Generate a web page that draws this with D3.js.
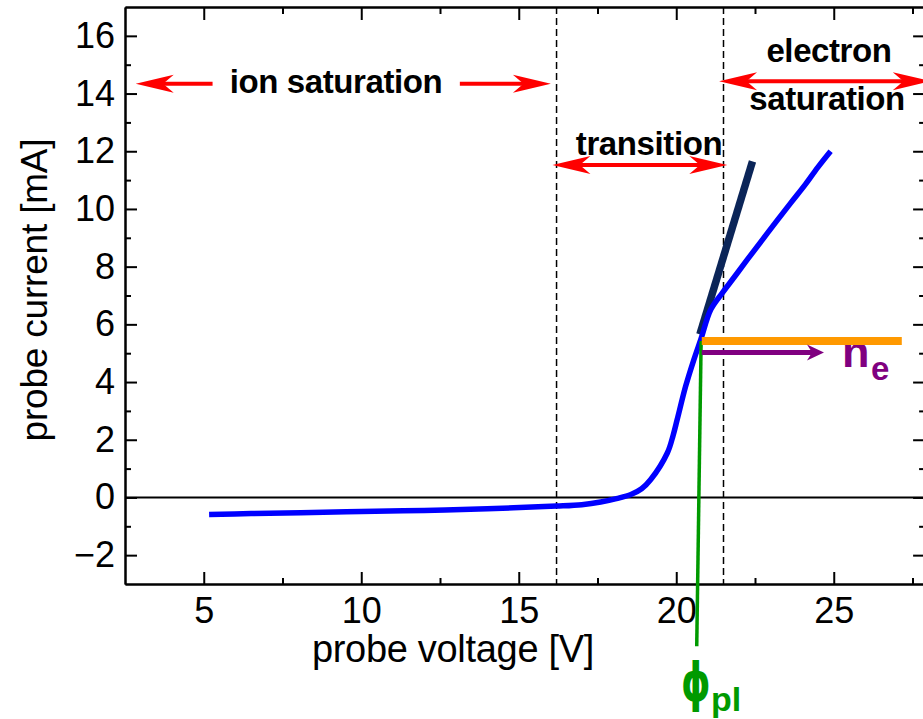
<!DOCTYPE html>
<html>
<head>
<meta charset="utf-8">
<script src="https://cdn.jsdelivr.net/npm/d3@7"></script>
<style>
  html, body { margin: 0; padding: 0; background: #fff; }
  svg { display: block; font-family: "Liberation Sans", Arial, sans-serif; }
</style>
</head>
<body>
<svg id="chart" width="923" height="719"></svg>
<script>
// Langmuir probe I–V characteristic
const voltage = [5.17, 6.5, 8.08, 10, 12, 14, 16.2, 17, 17.6, 18.1, 18.56, 18.9, 19.19, 19.72, 19.9, 20.03, 20.3, 20.56, 20.78, 21.1, 21.47, 21.85, 22.26, 22.9, 23.63, 24.1, 24.5, 24.9];
const current = [-0.59, -0.56, -0.53, -0.49, -0.45, -0.39, -0.3, -0.25, -0.16, -0.04, 0.1, 0.3, 0.62, 1.55, 2.15, 2.7, 3.86, 4.78, 5.48, 6.52, 7.1, 7.65, 8.25, 9.17, 10.2, 10.85, 11.45, 12.0];

// axis ticks
const xMajorTicks = [5, 10, 15, 20, 25];
const xMinorTicks = [7.5, 12.5, 17.5, 22.5, 27.5];
const yMajorTicks = [-2, 0, 2, 4, 6, 8, 10, 12, 14, 16];
const yMinorTicks = [-1, 1, 3, 5, 7, 9, 11, 13, 15];

// region boundaries [V]
const regionBounds = [16.2, 21.5];

// tangent to the steep part of the curve: [V, I] end points
const tangentV = [20.75, 22.42];
const tangentI = [5.65, 11.65];

// plasma potential and electron saturation level
const phiPl = [20.79, 20.65];      // top, bottom voltage of the marker
const phiPlI = [5.42, -5.16];      // top, bottom current of the marker
const satLevelV = [20.81, 27.16];
const satLevelI = 5.42;
const neArrowV = [20.81, 24.69];
const neArrowI = 5.02;

// region arrows: [from V, to V, at I]
const regionLabels = ["ion saturation", "transition", "electron", "saturation"];
const ionArrowLeft = [5.28, 2.84, 14.34];
const ionArrowRight = [13.13, 16.02, 14.34];
const transArrow = [16.07, 21.62, 11.52];
const elecArrow = [21.36, 28.08, 14.43];

const svg = d3.select("#chart");
const x = d3.scaleLinear().domain([2.5, 27.9]).range([125, 925.1]);
const y = d3.scaleLinear().domain([-3, 17]).range([584, 7]);

const TICK_FONT = 36;

// ---- axes ----
function styleAxis(g) {
  g.selectAll("path.domain").attr("stroke", "#000").attr("stroke-width", 2);
  g.selectAll(".tick line").attr("stroke", "#000").attr("stroke-width", 2);
  g.selectAll(".tick text").attr("font-size", TICK_FONT).attr("fill", "#000")
    .attr("font-family", "'Liberation Sans', Arial, sans-serif");
}

svg.append("g").attr("transform", `translate(0,${y(-3)})`)
  .call(d3.axisBottom(x).tickValues(xMajorTicks).tickSizeInner(-12).tickSizeOuter(0).tickPadding(13).tickFormat(d3.format("d")))
  .call(styleAxis);
svg.append("g").attr("transform", `translate(0,${y(-3)})`)
  .call(d3.axisBottom(x).tickValues(xMinorTicks).tickSizeInner(-6).tickSizeOuter(0).tickFormat(""))
  .call(styleAxis);
svg.append("g").attr("transform", `translate(0,${y(17)})`)
  .call(d3.axisTop(x).tickValues(xMajorTicks).tickSizeInner(-13).tickSizeOuter(0).tickFormat(""))
  .call(styleAxis);
svg.append("g").attr("transform", `translate(0,${y(17)})`)
  .call(d3.axisTop(x).tickValues(xMinorTicks).tickSizeInner(-7).tickSizeOuter(0).tickFormat(""))
  .call(styleAxis);

svg.append("g").attr("transform", `translate(${x(2.5)},0)`)
  .call(d3.axisLeft(y).tickValues(yMajorTicks).tickSizeInner(-12).tickSizeOuter(0).tickPadding(10).tickFormat(d3.format("d")))
  .call(styleAxis);
svg.append("g").attr("transform", `translate(${x(2.5)},0)`)
  .call(d3.axisLeft(y).tickValues(yMinorTicks).tickSizeInner(-6).tickSizeOuter(0).tickFormat(""))
  .call(styleAxis);
svg.append("g").attr("transform", `translate(${x(27.9)},0)`)
  .call(d3.axisRight(y).tickValues(yMajorTicks).tickSizeInner(-12).tickSizeOuter(0).tickFormat(""))
  .call(styleAxis);
svg.append("g").attr("transform", `translate(${x(27.9)},0)`)
  .call(d3.axisRight(y).tickValues(yMinorTicks).tickSizeInner(-6).tickSizeOuter(0).tickFormat(""))
  .call(styleAxis);

// axis titles
svg.append("text")
  .attr("x", 453).attr("y", 662)
  .attr("text-anchor", "middle").attr("font-size", 38).attr("fill", "#000")
  .attr("letter-spacing", -0.3)
  .text("probe voltage [V]");
svg.append("text")
  .attr("transform", "translate(47,290) rotate(-90)")
  .attr("text-anchor", "middle").attr("font-size", 37).attr("fill", "#000")
  .attr("letter-spacing", -0.2)
  .text("probe current [mA]");

// zero line
svg.append("line")
  .attr("x1", x(2.5)).attr("x2", x(27.9)).attr("y1", y(0)).attr("y2", y(0))
  .attr("stroke", "#000").attr("stroke-width", 2);

// region boundaries
svg.selectAll("line.bound").data(regionBounds).enter().append("line")
  .attr("class", "bound")
  .attr("x1", d => x(d)).attr("x2", d => x(d))
  .attr("y1", y(17)).attr("y2", y(-3))
  .attr("stroke", "#000").attr("stroke-width", 1.5).attr("stroke-dasharray", "7,4");

// ---- arrow helpers ----
function arrowHead(g, tipX, tipY, dir, len, half, notch, color) {
  // dir = +1 points right, -1 points left
  const p = [
    [tipX, tipY],
    [tipX - dir * len, tipY - half],
    [tipX - dir * len * notch, tipY],
    [tipX - dir * len, tipY + half]
  ];
  g.append("path").attr("d", "M" + p.map(q => q.join(",")).join("L") + "Z").attr("fill", color);
}
function redArrow(from, to, level, twoHeads) {
  const g = svg.append("g");
  const x0 = x(from), x1 = x(to), yy = y(level);
  const dir = x1 > x0 ? 1 : -1;
  g.append("line").attr("x1", x0 + (twoHeads ? dir * 20 : 0)).attr("x2", x1 - dir * 20)
    .attr("y1", yy).attr("y2", yy).attr("stroke", "#ff0000").attr("stroke-width", 4);
  arrowHead(g, x1, yy, dir, 38, 9, 0.72, "#ff0000");
  if (twoHeads) arrowHead(g, x0, yy, -dir, 38, 9, 0.72, "#ff0000");
}

redArrow(ionArrowLeft[0], ionArrowLeft[1], ionArrowLeft[2], false);
redArrow(ionArrowRight[0], ionArrowRight[1], ionArrowRight[2], false);
redArrow(transArrow[0], transArrow[1], transArrow[2], true);
redArrow(elecArrow[0], elecArrow[1], elecArrow[2], true);

// region labels
const lbl = (t, cx, by) => svg.append("text")
  .attr("x", cx).attr("y", by).attr("text-anchor", "middle")
  .attr("font-size", 33).attr("font-weight", "bold").attr("fill", "#000")
  .attr("letter-spacing", -0.4).text(t);
lbl(regionLabels[0], 336, 93);
lbl(regionLabels[1], 649, 155);
lbl(regionLabels[2], 829, 62);
lbl(regionLabels[3], 827, 110);

// ---- data and construction lines ----
const pts = voltage.map((v, i) => [v, current[i]]);

// tangent
svg.append("line")
  .attr("x1", x(tangentV[0])).attr("y1", y(tangentI[0]))
  .attr("x2", x(tangentV[1])).attr("y2", y(tangentI[1]))
  .attr("stroke", "#0b2558").attr("stroke-width", 7.5);

// I–V curve
svg.append("path").datum(pts)
  .attr("d", d3.line().x(d => x(d[0])).y(d => y(d[1])).curve(d3.curveCatmullRom.alpha(0.5)))
  .attr("fill", "none").attr("stroke", "#0000ff").attr("stroke-width", 5.5)
  .attr("stroke-linejoin", "round");

// plasma potential marker
svg.append("line")
  .attr("x1", x(phiPl[0])).attr("y1", y(phiPlI[0]))
  .attr("x2", x(phiPl[1])).attr("y2", y(phiPlI[1]))
  .attr("stroke", "#009a00").attr("stroke-width", 3.5);

// density label n_e (partly under the saturation level)
const ne = svg.append("text").attr("fill", "#800080").attr("font-weight", "bold");
ne.append("tspan").attr("x", 842).attr("y", 367).attr("font-size", 45).text("n");
ne.append("tspan").attr("x", 871).attr("y", 380).attr("font-size", 33).text("e");

// electron saturation level
svg.append("line")
  .attr("x1", x(satLevelV[0])).attr("x2", x(satLevelV[1]))
  .attr("y1", y(satLevelI)).attr("y2", y(satLevelI))
  .attr("stroke", "#ff9900").attr("stroke-width", 8);

// n_e arrow
{
  const g = svg.append("g");
  const x0 = x(neArrowV[0]), x1 = x(neArrowV[1]), yy = y(neArrowI);
  g.append("line").attr("x1", x0).attr("x2", x1 - 10).attr("y1", yy).attr("y2", yy)
    .attr("stroke", "#800080").attr("stroke-width", 5);
  arrowHead(g, x1, yy, 1, 17, 8, 0.7, "#800080");
}

// phi_pl label
svg.append("text")
  .attr("transform", "translate(696,701) scale(0.85,1.2)")
  .attr("text-anchor", "middle").attr("fill", "#009a00").attr("font-weight", "bold")
  .attr("font-family", "'DejaVu Sans', sans-serif").attr("font-size", 44).text("ϕ");
svg.append("text")
  .attr("x", 711).attr("y", 711).attr("fill", "#009a00").attr("font-weight", "bold")
  .attr("font-size", 34).text("pl");
</script>
</body>
</html>
